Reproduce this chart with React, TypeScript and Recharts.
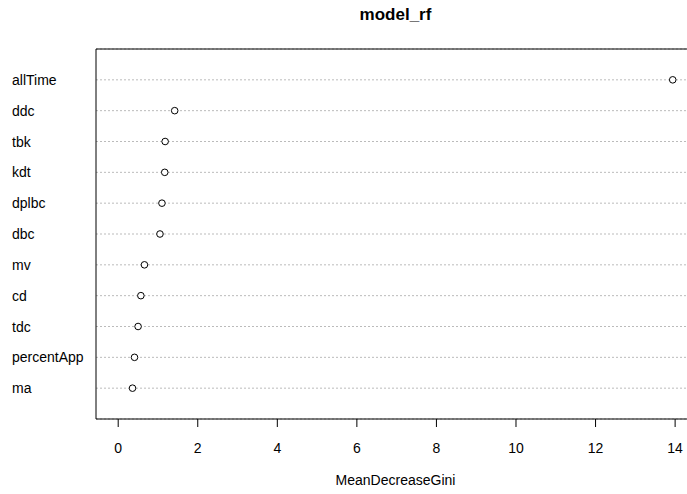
import React from 'react';
import {
  ScatterChart,
  Scatter,
  XAxis,
  YAxis,
  CartesianGrid,
  ReferenceArea,
} from 'recharts';

// variables, bottom to top as in the dotchart
const variables = ['ma', 'percentApp', 'tdc', 'cd', 'mv', 'dbc', 'dplbc', 'kdt', 'tbk', 'ddc', 'allTime'];
const meanDecreaseGini = [0.36, 0.41, 0.5, 0.57, 0.66, 1.05, 1.1, 1.17, 1.18, 1.42, 13.94];
const xTicks = [0, 2, 4, 6, 8, 10, 12, 14];

const X_MIN = -0.558;
const X_MAX = 14.5;
const Y_MAX = variables.length + 1;

const chartData = variables.map((name, i) => ({ name, row: i + 1, value: meanDecreaseGini[i] }));
const rowTicks = chartData.map((d) => d.row);

const FONT = '"Liberation Sans", Arial, sans-serif';

const RowLabel = (props: any) => {
  const { y, payload } = props;
  return (
    <text x={12} y={y} dy={5} textAnchor="start" fontSize={14} fontFamily={FONT} fill="#000">
      {variables[payload.value - 1]}
    </text>
  );
};

const OpenDot = (props: any) => {
  const { cx, cy } = props;
  return <circle cx={cx} cy={cy} r={3.3} fill="#fff" stroke="#000" strokeWidth={1} />;
};

export default function App() {
  return (
    <div
      style={{
        position: 'absolute',
        left: 0,
        top: 0,
        width: 687,
        height: 494,
        overflow: 'hidden',
        background: '#fff',
        fontFamily: FONT,
      }}
    >
      <div
        style={{
          position: 'absolute',
          left: 96,
          width: 599,
          top: 5,
          textAlign: 'center',
          fontWeight: 'bold',
          fontSize: 17,
        }}
      >
        model_rf
      </div>
      <div
        style={{
          position: 'absolute',
          left: 96,
          width: 599,
          top: 472,
          textAlign: 'center',
          fontSize: 14,
        }}
      >
        MeanDecreaseGini
      </div>
      <ScatterChart width={700} height={494} margin={{ top: 49, right: 5, bottom: 0, left: 0 }}>
        <CartesianGrid vertical={false} stroke="#bbb" strokeDasharray="2 2" />
        <XAxis
          type="number"
          dataKey="value"
          domain={[X_MIN, X_MAX]}
          ticks={xTicks}
          allowDataOverflow
          height={75}
          axisLine={false}
          tickLine={{ stroke: '#000' }}
          tickSize={8}
          tick={{ fontSize: 14, fill: '#000', fontFamily: FONT, dy: 14 }}
        />
        <YAxis
          type="number"
          dataKey="row"
          domain={[0, Y_MAX]}
          ticks={rowTicks}
          width={96}
          axisLine={false}
          tickLine={false}
          tick={<RowLabel />}
        />
        <ReferenceArea
          x1={X_MIN}
          x2={X_MAX}
          y1={0}
          y2={Y_MAX}
          fill="none"
          stroke="#000"
          strokeWidth={1}
          ifOverflow="visible"
        />
        <Scatter data={chartData} shape={<OpenDot />} isAnimationActive={false} />
      </ScatterChart>
    </div>
  );
}
